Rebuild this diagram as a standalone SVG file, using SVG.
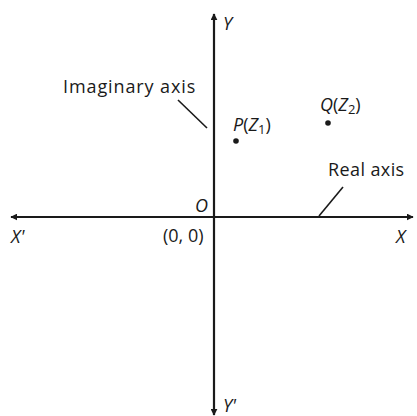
<svg xmlns="http://www.w3.org/2000/svg" width="417" height="416" viewBox="0 0 417 416">
<style>
.ax{stroke:#1a1a1a;stroke-width:2.2;fill:none}
.ld{stroke:#1a1a1a;stroke-width:1.6;fill:none}
text{font-family:"Open Sans","DejaVu Sans",sans-serif;font-size:18px;fill:#1a1a1a}
.i{font-style:italic}
</style>
<defs>
<marker id="ah" viewBox="0 0 10 10" refX="9" refY="5" markerWidth="7" markerHeight="7" orient="auto-start-reverse" markerUnits="userSpaceOnUse">
<path d="M0,0 L10,5 L0,10 z" fill="#1a1a1a"/>
</marker>
</defs>
<rect width="417" height="416" fill="#fff"/>
<g id="connectors">
<line class="ax" x1="11" y1="217" x2="413" y2="217" marker-start="url(#ah)" marker-end="url(#ah)"/>
<line class="ax" x1="214" y1="14" x2="214" y2="415" marker-start="url(#ah)" marker-end="url(#ah)"/>
<line class="ld" x1="178" y1="100" x2="207" y2="128"/>
<line class="ld" x1="343" y1="187" x2="319" y2="216"/>
</g>
<g id="y-label"><text class="i" x="223" y="30">Y</text></g>
<g id="y-prime-label"><text class="i" x="223" y="412" font-size="16">Y'</text></g>
<g id="x-label"><text class="i" x="396" y="243">X</text></g>
<g id="x-prime-label"><text class="i" x="11" y="243">X'</text></g>
<g id="origin"><text class="i" x="195" y="212">O</text><text x="163" y="242">(0, 0)</text></g>
<g id="imaginary-axis"><text x="63" y="93" letter-spacing="0.9">Imaginary axis</text></g>
<g id="real-axis"><text x="328" y="176" letter-spacing="0.4">Real axis</text></g>
<g id="P"><circle cx="236" cy="141" r="2.8" fill="#1a1a1a"/><text x="233" y="131"><tspan class="i">P</tspan>(<tspan class="i">Z</tspan><tspan font-size="13" dy="3">1</tspan><tspan dy="-3">)</tspan></text></g>
<g id="Q"><circle cx="328" cy="123" r="2.8" fill="#1a1a1a"/><text x="320" y="111"><tspan class="i">Q</tspan>(<tspan class="i">Z</tspan><tspan font-size="13" dy="3">2</tspan><tspan dy="-3">)</tspan></text></g>
</svg>
